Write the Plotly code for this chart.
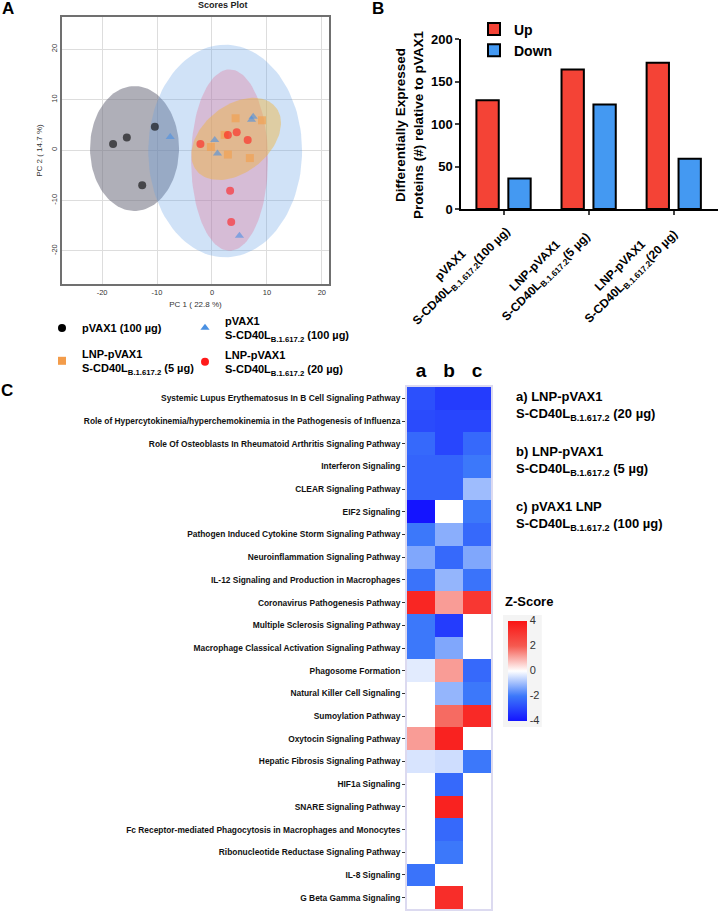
import numpy as np
import plotly.graph_objects as go

W, H = 719, 913
FONT = "Liberation Sans, Arial, sans-serif"
SUB = "S-CD40L<sub>B.1.617.2</sub>"

# ---- Panel A: PCA scores
pc1_pvax = [-18.0, -15.5, -12.7, -10.4]
pc2_pvax = [1.2, 2.5, -7.0, 4.6]
pc1_pvax_s = [-7.6, 0.5, 1.0, 7.5, 7.2, 5.0]
pc2_pvax_s = [2.6, 2.0, -0.7, 6.6, 6.0, -17.0]
pc1_lnp5 = [4.3, 9.1, 2.3, -0.2, 2.9, 6.9]
pc2_lnp5 = [6.3, 5.9, 3.0, 0.6, -0.9, -1.6]
pc1_lnp20 = [-2.1, 2.9, 4.5, 6.5, 3.3, 3.5]
pc2_lnp20 = [1.2, 3.0, 3.5, 2.0, -8.1, -14.3]
# confidence regions: centre x, centre y, semi-axis u, semi-axis v, angle in degrees
ell_pvax = [-14.1, 0.3, 8.1, 12.4, 0]
ell_pvax_s = [2.4, -0.2, 14.0, 21.1, 0]
ell_lnp20 = [3.2, -2.0, 7.0, 18.0, 0]
ell_lnp5 = [4.4, 2.2, 9.6, 6.4, 45]
pca_ticks = [-20, -10, 0, 10, 20]
pca_names = ["pVAX1 (100 µg)", "pVAX1<br>" + SUB + " (100 µg)",
             "LNP-pVAX1<br>" + SUB + " (5 µg)", "LNP-pVAX1<br>" + SUB + " (20 µg)"]

# ---- Panel B: differentially expressed proteins
groups_b = ["pVAX1", "LNP-pVAX1", "LNP-pVAX1"]
doses_b = ["(100 µg)", "(5 µg)", "(20 µg)"]
up_counts = [128, 164, 172]
down_counts = [36, 123, 59]

# ---- Panel C: pathway z-scores (columns a, b, c)
pathways = [
    "Systemic Lupus Erythematosus In B Cell Signaling Pathway",
    "Role of Hypercytokinemia/hyperchemokinemia in the Pathogenesis of Influenza",
    "Role Of Osteoblasts In Rheumatoid Arthritis Signaling Pathway",
    "Interferon Signaling",
    "CLEAR Signaling Pathway",
    "EIF2 Signaling",
    "Pathogen Induced Cytokine Storm Signaling Pathway",
    "Neuroinflammation Signaling Pathway",
    "IL-12 Signaling and Production in Macrophages",
    "Coronavirus Pathogenesis Pathway",
    "Multiple Sclerosis Signaling Pathway",
    "Macrophage Classical Activation Signaling Pathway",
    "Phagosome Formation",
    "Natural Killer Cell Signaling",
    "Sumoylation Pathway",
    "Oxytocin Signaling Pathway",
    "Hepatic Fibrosis Signaling Pathway",
    "HIF1a Signaling",
    "SNARE Signaling Pathway",
    "Fc Receptor-mediated Phagocytosis in Macrophages and Monocytes",
    "Ribonucleotide Reductase Signaling Pathway",
    "IL-8 Signaling",
    "G Beta Gamma Signaling",
]
columns_c = ["a", "b", "c"]
zscores = [
    [-2.8, -3.2, -3.2],
    [-2.9, -3.0, -3.0],
    [-2.3, -3.0, -2.3],
    [-2.4, -2.4, -2.0],
    [-2.4, -2.4, -1.0],
    [-4.0, None, -2.0],
    [-2.0, -1.2, -2.3],
    [-1.3, -2.3, -1.3],
    [-2.1, -1.1, -2.1],
    [3.5, 1.2, 3.0],
    [-2.0, -3.2, None],
    [-2.0, -1.3, None],
    [-0.3, 1.2, -2.3],
    [None, -1.1, -2.0],
    [None, 1.8, 3.4],
    [1.2, 3.6, None],
    [-0.4, -0.5, -2.0],
    [None, -2.3, None],
    [None, 3.6, None],
    [None, -2.3, None],
    [None, -2.0, None],
    [-2.1, None, None],
    [None, 3.3, None],
]
z_ticks = [-4, -2, 0, 2, 4]
group_legend_c = ["a) LNP-pVAX1<br>" + SUB + " (20 µg)",
                  "b) LNP-pVAX1<br>" + SUB + " (5 µg)",
                  "c) pVAX1 LNP<br>" + SUB + " (100 µg)"]


def px(x):
    return x / W


def py(y):
    return 1 - y / H


def ellipse(p, n=120):
    cx, cy, a, b, ang = p
    t = np.linspace(0, 2 * np.pi, n)
    r = np.deg2rad(ang)
    x = cx + a * np.cos(t) * np.cos(r) - b * np.sin(t) * np.sin(r)
    y = cy + a * np.cos(t) * np.sin(r) + b * np.sin(t) * np.cos(r)
    return x, y


fig = go.Figure()

# ellipses
for p, col in [(ell_pvax, "rgba(110,110,125,0.55)"), (ell_pvax_s, "rgba(100,160,230,0.30)"),
               (ell_lnp20, "rgba(230,100,140,0.30)"), (ell_lnp5, "rgba(240,180,60,0.45)")]:
    ex, ey = ellipse(p)
    fig.add_trace(go.Scatter(x=ex, y=ey, mode="lines", fill="toself", fillcolor=col,
                             line=dict(width=0), hoverinfo="skip", showlegend=False,
                             xaxis="x", yaxis="y"))

pca_sets = [
    (pc1_pvax, pc2_pvax, "circle", "#000000", "legend2"),
    (pc1_pvax_s, pc2_pvax_s, "triangle-up", "#4a90e2", "legend3"),
    (pc1_lnp5, pc2_lnp5, "square", "#f39c4a", "legend4"),
    (pc1_lnp20, pc2_lnp20, "circle", "#ff1a1a", "legend5"),
]
for (xs, ys, sym, col, lg), name in zip(pca_sets, pca_names):
    fig.add_trace(go.Scatter(x=xs, y=ys, mode="markers", showlegend=False,
                             marker=dict(symbol=sym, color=col, size=8, opacity=0.6),
                             xaxis="x", yaxis="y"))
    fig.add_trace(go.Scatter(x=[None], y=[None], mode="markers", name=name, legend=lg,
                             marker=dict(symbol=sym, color=col, size=8),
                             xaxis="x", yaxis="y"))

# bars
fig.add_trace(go.Bar(x=list(range(3)), y=up_counts, name="Up",
                     marker=dict(color="#f44336", line=dict(color="black", width=2)),
                     xaxis="x2", yaxis="y2", legend="legend"))
fig.add_trace(go.Bar(x=list(range(3)), y=down_counts, name="Down",
                     marker=dict(color="#4499f2", line=dict(color="black", width=2)),
                     xaxis="x2", yaxis="y2", legend="legend"))

# heatmap
fig.add_trace(go.Heatmap(
    z=zscores, x=columns_c, y=pathways, zmin=-4, zmax=4, xaxis="x3", yaxis="y3",
    colorscale=[[0, "rgb(20,20,255)"], [0.25, "rgb(60,120,250)"], [0.5, "rgb(255,255,255)"],
                [0.75, "rgb(245,90,80)"], [1, "rgb(250,20,20)"]],
    showscale=True,
    colorbar=dict(x=px(503), xanchor="left", y=py(670.5), yanchor="middle",
                  lenmode="pixels", len=112, thickness=19, thicknessmode="pixels",
                  xpad=5, ypad=6, bgcolor="#f4f4f4", outlinewidth=0,
                  tickvals=z_ticks, ticktext=[str(v) for v in z_ticks], ticks="",
                  tickfont=dict(size=11, color="#333", family=FONT)),
))

ann = []
# panel letters
for letter, x, y in [("A", 8, 9), ("B", 378, 9), ("C", 7, 390)]:
    ann.append(dict(text=letter, x=px(x), y=py(y), xref="paper", yref="paper", showarrow=False,
                    xanchor="center", yanchor="middle",
                    font=dict(size=17, family=FONT, color="black", weight="bold")))
ann.append(dict(text="Scores Plot", x=px(196), y=py(5), xref="paper", yref="paper", showarrow=False,
                yanchor="middle", font=dict(size=9, family=FONT, color="#222", weight="bold")))
# panel B y title and rotated category labels
ann.append(dict(text="Differentially Expressed<br>Proteins (#) relative to pVAX1", x=px(409), y=py(125),
                xref="paper", yref="paper", showarrow=False, textangle=-90,
                xanchor="center", yanchor="middle",
                font=dict(size=13.5, family=FONT, color="black", weight="bold")))
for i, (g, d) in enumerate(zip(groups_b, doses_b)):
    ann.append(dict(text=g + "<br>" + SUB + d, x=i, y=py(271), xref="x2", yref="paper", xshift=-48,
                    showarrow=False, textangle=-45, xanchor="center", yanchor="middle",
                    font=dict(size=12, family=FONT, color="black", weight="bold")))
# panel C group key and colour bar title
for i, t in enumerate(group_legend_c):
    ann.append(dict(text=t, x=px(514), y=py(406 + 55 * i), xref="paper", yref="paper", showarrow=False,
                    xanchor="left", yanchor="middle", align="left",
                    font=dict(size=13, family=FONT, color="black", weight="bold")))
ann.append(dict(text="Z-Score", x=px(503), y=py(601), xref="paper", yref="paper", showarrow=False,
                xanchor="left", yanchor="middle", font=dict(size=13, family=FONT, color="black", weight="bold")))

leg_common = dict(font=dict(size=11, family=FONT, color="black", weight="bold"), bgcolor="rgba(0,0,0,0)",
                  xanchor="left", yanchor="middle", itemclick=False)

pca_axis = dict(dtick=10, showgrid=True, gridcolor="#dddddd", zeroline=False, showline=True, mirror=True,
                linecolor="#707070", linewidth=1.5, ticks="", automargin=False,
                tickvals=pca_ticks, ticktext=[str(v) for v in pca_ticks],
                tickfont=dict(size=7.5, color="#333"))

fig.update_layout(
    width=W, height=H, margin=dict(l=0, r=0, t=0, b=0),
    paper_bgcolor="white", plot_bgcolor="white",
    font=dict(family=FONT),
    barmode="group", bargap=0.25, bargroupgap=0.3,
    annotations=ann,
    xaxis=dict(domain=[px(62), px(329)], range=[-27.3, 21.3],
               title=dict(text="PC 1 ( 22.8 %)", font=dict(size=8, color="#333"), standoff=6), **pca_axis),
    yaxis=dict(domain=[py(284), py(17)], range=[-26.6, 26.4], tickangle=-90,
               title=dict(text="PC 2 ( 14.7 %)", font=dict(size=8, color="#333"), standoff=6), **pca_axis),
    xaxis2=dict(domain=[px(461), px(718)], range=[-0.5, 2.52], showgrid=False, zeroline=False,
                showline=True, linecolor="black", linewidth=1.5, ticks="outside", ticklen=4, tickwidth=1.5,
                tickvals=[0, 1, 2], showticklabels=False, anchor="y2", automargin=False),
    yaxis2=dict(domain=[py(209), py(39)], range=[0, 200], dtick=50, showgrid=False, zeroline=False,
                showline=True, linecolor="black", linewidth=1.5, ticks="outside", ticklen=4, tickwidth=1.5,
                tickfont=dict(size=13, color="black", weight="bold"), anchor="x2", automargin=False),
    xaxis3=dict(domain=[px(407), px(491)], side="top", showgrid=False, zeroline=False, ticks="",
                showline=True, mirror=True, linecolor="#dcdaf0", linewidth=2, automargin=False,
                tickfont=dict(size=19, color="black", weight="bold"), anchor="y3"),
    yaxis3=dict(domain=[py(909), py(387)], autorange="reversed", showgrid=False, zeroline=False,
                showline=True, mirror=True, linecolor="#dcdaf0", linewidth=2, automargin=False,
                ticks="outside", ticklen=3, tickcolor="#333",
                tickfont=dict(size=8.4, color="#111", weight="bold"), anchor="x3"),
    legend=dict(x=px(474), y=py(40), font=dict(size=14, family=FONT, color="black", weight="bold"),
                bgcolor="rgba(0,0,0,0)", xanchor="left", yanchor="middle", tracegroupgap=0),
    legend2=dict(x=px(42), y=py(328), **leg_common),
    legend3=dict(x=px(185), y=py(328), **leg_common),
    legend4=dict(x=px(42), y=py(361), **leg_common),
    legend5=dict(x=px(185), y=py(362), **leg_common),
)

# the page body has a default 8px margin; remove it so the figure sits at the window origin
fig.write_html("out.html", config={"displayModeBar": False},
               post_script="document.body.style.margin = '0px';")
